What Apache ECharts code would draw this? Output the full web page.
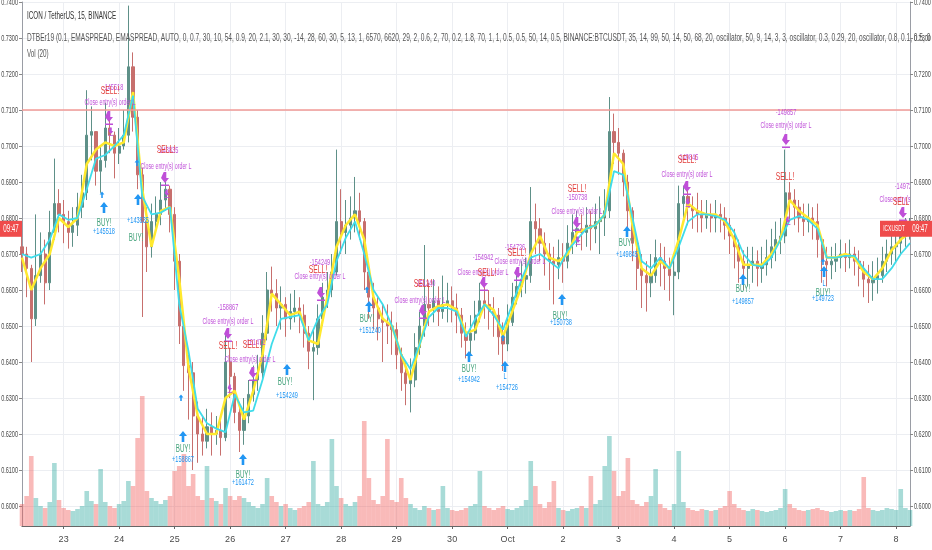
<!DOCTYPE html>
<html><head><meta charset="utf-8">
<script src="https://cdn.jsdelivr.net/npm/echarts/dist/echarts.min.js"></script>
<style>html,body{margin:0;padding:0;background:#fff}#c{width:932px;height:550px}</style>
</head><body><div id="c"></div>
<script>
// ---------- data ----------
const startTime = Date.UTC(2019, 8, 22, 6, 0); // first 2h candle
const stepHours = 2;
const monthNames = ['Jan','Feb','Mar','Apr','May','Jun','Jul','Aug','Sep','Oct','Nov','Dec'];
const firstOpen = 0.6720;
const closes = [
0.6700,0.6660,0.6520,0.6640,0.6700,0.6620,0.6760,0.6840,0.6810,0.6790,
0.6760,0.6780,0.6830,0.6870,0.7030,0.7040,0.6930,0.6960,0.7050,0.7030,
0.6980,0.7000,0.7030,0.7220,0.7080,0.6920,0.6790,0.6720,0.6790,0.6810,
0.6850,0.6880,0.6810,0.6680,0.6500,0.6390,0.6370,0.6250,0.6200,0.6180,
0.6220,0.6200,0.6210,0.6190,0.6400,0.6360,0.6260,0.6210,0.6250,0.6310,
0.6350,0.6370,0.6480,0.6600,0.6590,0.6550,0.6560,0.6520,0.6540,0.6550,
0.6530,0.6480,0.6430,0.6440,0.6520,0.6580,0.6600,0.6650,0.6790,0.6760,
0.6780,0.6800,0.6820,0.6790,0.6650,0.6580,0.6550,0.6520,0.6510,0.6500,
0.6490,0.6420,0.6370,0.6340,0.6350,0.6440,0.6500,0.6560,0.6550,0.6570,
0.6540,0.6560,0.6570,0.6550,0.6530,0.6480,0.6460,0.6480,0.6530,0.6570,
0.6560,0.6540,0.6530,0.6470,0.6450,0.6510,0.6580,0.6610,0.6630,0.6640,
0.6790,0.6770,0.6730,0.6700,0.6680,0.6670,0.6690,0.6680,0.6730,0.6760,
0.6770,0.6760,0.6780,0.6770,0.6790,0.6800,0.6820,0.7040,0.7010,0.6980,
0.6900,0.6820,0.6730,0.6660,0.6640,0.6620,0.6640,0.6690,0.6680,0.6660,
0.6640,0.6650,0.6840,0.6860,0.6830,0.6820,0.6810,0.6800,0.6810,0.6800,
0.6810,0.6800,0.6780,0.6750,0.6720,0.6680,0.6660,0.6670,0.6680,0.6660,
0.6670,0.6690,0.6720,0.6740,0.6750,0.6870,0.6850,0.6830,0.6800,0.6790,
0.6800,0.6790,0.6740,0.6680,0.6670,0.6680,0.6690,0.6700,0.6690,0.6700,
0.6680,0.6660,0.6630,0.6620,0.6630,0.6640,0.6680,0.6700,0.6720,0.6730,
0.6750,0.6760,0.6770];
const highs = [
0.6780,0.6720,0.6670,0.6810,0.6760,0.6740,0.6820,0.6965,0.6880,0.6850,
0.6820,0.6830,0.6870,0.6920,0.7155,0.7110,0.7040,0.7000,0.7120,0.7090,
0.7040,0.7050,0.7100,0.7390,0.7260,0.7100,0.6940,0.6830,0.6840,0.6860,
0.6900,0.6925,0.6890,0.6830,0.6700,0.6520,0.6420,0.6400,0.6290,0.6250,
0.6270,0.6260,0.6250,0.6240,0.6475,0.6440,0.6370,0.6280,0.6300,0.6350,
0.6390,0.6420,0.6530,0.6650,0.6665,0.6630,0.6610,0.6580,0.6590,0.6600,
0.6580,0.6560,0.6500,0.6490,0.6560,0.6620,0.6650,0.6700,0.6990,0.6880,
0.6850,0.6860,0.6914,0.6870,0.6800,0.6680,0.6620,0.6580,0.6560,0.6560,
0.6540,0.6510,0.6440,0.6400,0.6410,0.6480,0.6540,0.6725,0.6620,0.6630,
0.6610,0.6640,0.6620,0.6610,0.6590,0.6550,0.6510,0.6530,0.6570,0.6620,
0.6610,0.6600,0.6580,0.6550,0.6510,0.6560,0.6620,0.6660,0.6680,0.6690,
0.6886,0.6840,0.6800,0.6760,0.6730,0.6720,0.6740,0.6730,0.6780,0.6810,
0.6820,0.6810,0.6830,0.6820,0.6840,0.6860,0.6880,0.7136,0.7090,0.7050,
0.6990,0.6920,0.6830,0.6750,0.6700,0.6680,0.6700,0.6740,0.6730,0.6720,
0.6690,0.6700,0.6890,0.6890,0.6880,0.6860,0.6870,0.6850,0.6850,0.6840,
0.6850,0.6840,0.6830,0.6800,0.6770,0.6740,0.6710,0.6720,0.6720,0.6710,
0.6720,0.6740,0.6770,0.6790,0.6800,0.6990,0.6900,0.6880,0.6850,0.6840,
0.6840,0.6830,0.6840,0.6750,0.6720,0.6720,0.6730,0.6740,0.6730,0.6740,
0.6720,0.6710,0.6680,0.6670,0.6680,0.6690,0.6720,0.6740,0.6760,0.6770,
0.6790,0.6800,0.6800];
const lows = [
0.6650,0.6580,0.6400,0.6500,0.6620,0.6560,0.6600,0.6740,0.6760,0.6730,
0.6715,0.6720,0.6750,0.6800,0.6850,0.6960,0.6890,0.6870,0.6940,0.6980,
0.6910,0.6950,0.6990,0.7010,0.7040,0.6880,0.6525,0.6650,0.6690,0.6760,
0.6780,0.6820,0.6760,0.6600,0.6450,0.6320,0.6240,0.6100,0.6120,0.6140,
0.6160,0.6140,0.6170,0.6140,0.6180,0.6300,0.6230,0.6150,0.6170,0.6230,
0.6290,0.6320,0.6350,0.6460,0.6540,0.6500,0.6490,0.6470,0.6490,0.6510,
0.6480,0.6440,0.6380,0.6294,0.6420,0.6500,0.6550,0.6580,0.6640,0.6700,
0.6700,0.6740,0.6760,0.6740,0.6600,0.6520,0.6490,0.6460,0.6400,0.6450,
0.6420,0.6380,0.6320,0.6280,0.6260,0.6330,0.6420,0.6470,0.6500,0.6510,
0.6500,0.6520,0.6510,0.6510,0.6480,0.6440,0.6410,0.6420,0.6460,0.6510,
0.6520,0.6490,0.6470,0.6420,0.6375,0.6430,0.6500,0.6560,0.6580,0.6590,
0.6620,0.6700,0.6680,0.6640,0.6600,0.6560,0.6630,0.6620,0.6660,0.6700,
0.6720,0.6710,0.6720,0.6710,0.6730,0.6700,0.6750,0.6800,0.6950,0.6920,
0.6860,0.6760,0.6680,0.6600,0.6550,0.6540,0.6580,0.6620,0.6610,0.6600,
0.6570,0.6530,0.6630,0.6800,0.6780,0.6770,0.6760,0.6760,0.6770,0.6760,
0.6760,0.6760,0.6740,0.6700,0.6660,0.6620,0.6600,0.6610,0.6620,0.6610,
0.6620,0.6640,0.6660,0.6680,0.6700,0.6730,0.6790,0.6780,0.6760,0.6750,
0.6760,0.6740,0.6690,0.6620,0.6610,0.6630,0.6650,0.6660,0.6650,0.6660,
0.6640,0.6610,0.6580,0.6564,0.6570,0.6590,0.6620,0.6650,0.6670,0.6680,
0.6700,0.6720,0.6740];
const volumes = [
22,30,70,28,20,18,24,63,26,18,
16,15,17,20,35,25,22,57,24,20,
18,22,25,45,40,88,130,35,28,25,
22,26,30,55,60,72,40,52,30,26,
60,28,25,22,38,30,26,30,28,24,
20,18,22,48,30,24,20,22,18,16,
18,20,24,65,22,20,24,87,40,28,
22,20,24,30,105,48,26,22,30,87,
26,24,48,28,22,18,16,20,18,16,
17,40,18,16,15,16,18,20,22,55,
20,18,16,18,20,17,16,18,20,26,
65,40,22,18,24,45,18,16,15,17,
18,20,18,50,22,26,60,90,55,30,
35,68,26,22,20,24,30,57,22,18,
16,22,75,24,18,16,15,17,16,15,
16,18,20,35,22,18,16,15,17,16,
15,14,15,16,18,37,22,18,16,15,
16,17,18,16,15,14,15,16,15,16,
15,17,49,18,16,15,16,18,17,16,
37,18,16];
// indicator lines, one value every 2nd candle
const fastEma = [
0.6690,0.6600,0.6660,0.6700,0.6800,0.6775,0.6800,0.6950,0.6990,0.7010,
0.7000,0.7010,0.7150,0.6880,0.6720,0.6820,0.6830,0.6630,0.6385,0.6250,
0.6200,0.6200,0.6300,0.6320,0.6240,0.6320,0.6420,0.6590,0.6560,0.6530,
0.6540,0.6460,0.6450,0.6580,0.6720,0.6780,0.6810,0.6740,0.6580,0.6520,
0.6500,0.6420,0.6350,0.6450,0.6540,0.6555,0.6560,0.6545,0.6480,0.6490,
0.6560,0.6545,0.6470,0.6540,0.6610,0.6700,0.6750,0.6690,0.6680,0.6700,
0.6760,0.6770,0.6780,0.6810,0.6980,0.6950,0.6780,0.6660,0.6640,0.6680,
0.6660,0.6740,0.6840,0.6820,0.6810,0.6810,0.6790,0.6740,0.6670,0.6670,
0.6670,0.6700,0.6740,0.6850,0.6820,0.6800,0.6780,0.6690,0.6690,0.6700,
0.6690,0.6650,0.6630,0.6660,0.6710,0.6740,0.6760];
const slowEma = [
0.6700,0.6690,0.6700,0.6740,0.6810,0.6795,0.6800,0.6880,0.6965,0.6975,
0.7000,0.7030,0.7140,0.6860,0.6810,0.6815,0.6830,0.6560,0.6430,0.6270,
0.6230,0.6215,0.6205,0.6310,0.6260,0.6265,0.6350,0.6450,0.6520,0.6525,
0.6530,0.6460,0.6520,0.6560,0.6680,0.6745,0.6790,0.6700,0.6600,0.6560,
0.6500,0.6420,0.6380,0.6450,0.6525,0.6550,0.6550,0.6540,0.6470,0.6520,
0.6560,0.6530,0.6490,0.6560,0.6630,0.6690,0.6700,0.6680,0.6660,0.6710,
0.6740,0.6770,0.6780,0.6810,0.6930,0.6920,0.6800,0.6680,0.6660,0.6690,
0.6660,0.6720,0.6790,0.6810,0.6810,0.6805,0.6795,0.6760,0.6700,0.6670,
0.6665,0.6690,0.6740,0.6795,0.6805,0.6795,0.6770,0.6690,0.6690,0.6695,
0.6695,0.6660,0.6630,0.6630,0.6660,0.6700,0.6730];
const levelLine = 0.7100;
const yTicks = {min: 0.60, max: 0.74, step: 0.01};
const priceTickLabels = ['0.6000','0.6100','0.6200','0.6300','0.6400','0.6500','0.6600','0.6700','0.6800','0.6900','0.7000','0.7100','0.7200','0.7300','0.7400'];
// strategy annotations: [candle index, price, text]
const sellLabels = [[19.03,0.71528],[31.14,0.69889],[44.54,0.64444],[49.73,0.64472],[64.00,0.66556],[86.70,0.66167],[100.54,0.66472],[107.03,0.67028],[120.00,0.68806],[143.78,0.69611],[164.97,0.69139],[190.27,0.68444]];
const sellAmounts = [[19.68,0.71611,'-145518'],[31.57,0.69861,'-143835'],[44.54,0.65500,'-158867'],[50.38,0.64528,'-161472'],[64.43,0.66750,'-154249'],[87.14,0.66194,'-151240'],[99.68,0.66889,'-154942'],[106.59,0.67194,'-154726'],[120.00,0.68556,'-150738'],[144.00,0.69667,'-149845'],[165.19,0.70917,'-149857'],[190.92,0.68861,'-149723']];
const closeLabels = [[19.03,0.71194],[31.14,0.69417],[44.54,0.65111],[49.30,0.64056],[64.43,0.66361],[86.05,0.65694],[99.68,0.66472],[107.68,0.66778],[120.00,0.68167],[143.78,0.69194],[165.19,0.70556],[190.92,0.68500]];
const closeArrows = [[18.81,0.70806],[30.92,0.69111],[44.54,0.64778],[49.95,0.63694],[64.65,0.65917],[86.70,0.65417],[99.89,0.66194],[107.24,0.66472],[120.00,0.67861],[143.78,0.68861],[165.19,0.70167],[190.49,0.68139]];
const closeTicks = [[19.24,0.70417],[31.35,0.68694],[44.97,0.63278],[120.22,0.67389],[144.00,0.68444],[165.62,0.67944]];
const buyArrows = [[17.73,0.68278],[25.08,0.68500],[34.81,0.61917],[47.78,0.61278],[57.30,0.63778],[75.03,0.65528],[96.65,0.64139],[104.43,0.63861],[116.76,0.65722],[130.81,0.67611],[155.89,0.66278],[173.41,0.66500]];
const buyTicks = [[17.30,0.68639],[24.86,0.69528],[34.38,0.63000],[74.59,0.66000],[104.00,0.64667],[173.19,0.66778]];
const buyLabels = [[17.73,0.67861],[24.65,0.67444],[34.81,0.61583],[47.78,0.60861],[56.86,0.63444],[74.59,0.65194],[96.65,0.63806],[116.32,0.65278],[130.59,0.67306],[155.89,0.66028],[173.19,0.65917]];
const entryLetters = [[104.43,0.63583],[173.41,0.66194]];
const buyAmounts = [[17.73,0.67611,'+145518'],[25.08,0.67917,'+143835'],[34.81,0.61278,'+158867'],[47.78,0.60639,'+161472'],[57.30,0.63056,'+154249'],[75.24,0.64861,'+151240'],[96.65,0.63500,'+154942'],[104.86,0.63278,'+154726'],[116.54,0.65083,'+150738'],[130.81,0.66972,'+149845'],[155.89,0.65667,'+149857'],[173.19,0.65750,'+149723']];
const headerTitle = 'ICON / TetherUS, 15, BINANCE';
const headerStudy = 'DTBEr19 (0.1, EMASPREAD, EMASPREAD, AUTO, 0, 0.7, 30, 10, 54, 0.9, 20, 2.1, 30, 30, -14, 28, 60, 30, 5, 13, 1, 6570, 6620, 29, 2, 0.6, 2, 70, 0.2, 1.8, 70, 1, 1, 0.5, 0.5, 50, 14, 0.5, BINANCE:BTCUSDT, 35, 14, 99, 50, 14, 50, 68, 20, oscillator, 50, 9, 14, 3, 3, oscillator, 0.3, 0.29, 20, oscillator, 0.8, 0.1, 0.5, 0';
const headerVol = 'Vol (20)';
const symbolTag = 'ICXUSDT';
const countdown = '09:47';

// ---------- build ----------
const categories = closes.map((_, i) => new Date(startTime + i * stepHours * 3600000).toISOString().slice(0, 16).replace('T', ' '));
const opens = closes.map((c, i) => i === 0 ? firstOpen : closes[i - 1]);
const candleData = closes.map((c, i) => [opens[i], c, lows[i], highs[i]]);
const UP = '#5e9088', DOWN = '#c76f6d';
const volData = volumes.map((v, i) => ({value: v, itemStyle: {color: closes[i] >= opens[i] ? 'rgba(38,166,154,0.40)' : 'rgba(239,83,80,0.40)'}}));
const isDayStart = (idx, val) => String(val).slice(11, 13) === '00';
const dayLabel = v => { const d = +v.slice(8, 10); return d === 1 ? monthNames[+v.slice(5, 7) - 1] : String(d); };

const SX = 0.62;
const FONT = '"Liberation Sans", Arial, sans-serif';
const PURPLE = '#bf4fd8', BLUE = '#2196f3', RED = '#e2403d', GREEN = '#45a37c';
const annoItems = [];
const addGroup = (arr, kind) => arr.forEach(d => annoItems.push({kind, i: d[0], p: d[1], text: d[2]}));
addGroup(closeTicks, 'downSmall'); addGroup(buyTicks, 'upSmall');
addGroup(closeArrows, 'down'); addGroup(buyArrows, 'up');
addGroup(closeLabels, 'close'); addGroup(sellAmounts, 'sellAmt'); addGroup(sellLabels, 'sell');
addGroup(buyLabels, 'buy'); addGroup(entryLetters, 'letter'); addGroup(buyAmounts, 'buyAmt');
const textKinds = {
  sell: {text: 'SELL!', color: RED, size: 11},
  sellAmt: {color: PURPLE, size: 9},
  close: {text: 'Close entry(s) order L', color: PURPLE, size: 8.5},
  buy: {text: 'BUY!', color: GREEN, size: 10},
  letter: {text: 'L', color: BLUE, size: 9},
  buyAmt: {color: BLUE, size: 9}
};
function arrowUp(cx, cy, s, fill) {
  return {type: 'polygon', shape: {points: [[cx, cy - 6 * s], [cx + 4 * s, cy - 1 * s], [cx + 1.3 * s, cy - 1 * s], [cx + 1.3 * s, cy + 5 * s], [cx - 1.3 * s, cy + 5 * s], [cx - 1.3 * s, cy - 1 * s], [cx - 4 * s, cy - 1 * s]]}, style: {fill}};
}
function arrowDown(cx, cy, s, fill) {
  return {type: 'group', children: [
    {type: 'polygon', shape: {points: [[cx - 1.3 * s, cy - 6 * s], [cx + 1.3 * s, cy - 6 * s], [cx + 1.3 * s, cy], [cx + 4 * s, cy], [cx, cy + 5 * s], [cx - 4 * s, cy]]}, style: {fill}},
    {type: 'rect', shape: {x: cx - 4 * s, y: cy + 6.5 * s, width: 8 * s, height: 1.5 * s}, style: {fill}}
  ]};
}
function renderAnno(params, api) {
  const a = annoItems[params.dataIndex];
  const pt = api.coord([a.i, a.p]);
  if (a.kind === 'up') return arrowUp(pt[0], pt[1], 1, BLUE);
  if (a.kind === 'upSmall') return arrowUp(pt[0], pt[1], 0.6, BLUE);
  if (a.kind === 'down') return arrowDown(pt[0], pt[1], 1, PURPLE);
  if (a.kind === 'downSmall') return arrowDown(pt[0], pt[1], 0.6, PURPLE);
  const st = textKinds[a.kind];
  return {type: 'text', x: pt[0], y: pt[1], scaleX: SX,
    style: {text: a.text || st.text, fill: st.color, font: st.size + 'px ' + FONT, align: 'center', verticalAlign: 'middle'}};
}
const lastClose = closes[closes.length - 1];
function renderTag(params, api) {
  const r = api.coord([closes.length - 1, lastClose]);
  const l = api.coord([0, lastClose]);
  const y = r[1];
  return {type: 'group', children: [
    {type: 'rect', shape: {x: r[0] - 30, y: y - 8, width: 52, height: 16}, style: {fill: '#ef4b4b'}},
    {type: 'text', x: r[0] - 16, y: y, scaleX: 0.55, style: {text: symbolTag, fill: '#fff', font: '9px ' + FONT, align: 'center', verticalAlign: 'middle'}},
    {type: 'text', x: r[0] + 10, y: y, scaleX: SX, style: {text: countdown, fill: '#fff', font: '10px ' + FONT, align: 'center', verticalAlign: 'middle'}},
    {type: 'rect', shape: {x: l[0] - 22, y: y - 8, width: 22, height: 16}, style: {fill: '#ef4b4b'}},
    {type: 'text', x: l[0] - 11, y: y, scaleX: SX, style: {text: countdown, fill: '#fff', font: '10px ' + FONT, align: 'center', verticalAlign: 'middle'}}
  ]};
}
// price tick labels on both sides (condensed, like the reference)
function renderPriceLabels(params, api) {
  const t = priceTickLabels[params.dataIndex];
  const v = parseFloat(t);
  const l = api.coord([0, v]);
  const r = api.coord([closes.length - 1, v]);
  const st = (align) => ({text: t, fill: '#4a4a4a', font: '9.5px ' + FONT, align, verticalAlign: 'middle'});
  return {type: 'group', children: [
    {type: 'text', x: l[0] - 4, y: l[1], scaleX: 0.58, style: st('right')},
    {type: 'text', x: r[0] + 4, y: r[1], scaleX: 0.58, style: st('left')}
  ]};
}

const GRID_LINE = '#eceef2';
const priceAxis = (pos) => ({
  type: 'value', gridIndex: 0, position: pos, min: yTicks.min, max: yTicks.max, interval: yTicks.step,
  axisLine: {show: false}, axisTick: {show: true, length: 3, lineStyle: {color: '#888'}},
  axisLabel: {show: false},
  splitLine: {show: pos === 'left', lineStyle: {color: GRID_LINE, width: 1}}
});

const chart = echarts.init(document.getElementById('c'), null, {renderer: 'canvas'});
chart.setOption({
  animation: false,
  backgroundColor: '#ffffff',
  grid: [
    {left: 22, right: 22, top: 2, bottom: 44, outerBoundsMode: 'none'},
    {left: 22, right: 22, top: 2, bottom: 24, outerBoundsMode: 'none'}
  ],
  xAxis: [
    {type: 'category', gridIndex: 0, data: categories, boundaryGap: false, show: false},
    {type: 'category', gridIndex: 1, data: categories, boundaryGap: false,
      axisLine: {lineStyle: {color: '#666', width: 1.2}},
      axisTick: {interval: isDayStart, length: 3, lineStyle: {color: '#666'}},
      axisLabel: {interval: isDayStart, formatter: dayLabel, color: '#4a4a4a', fontSize: 9, fontFamily: 'Liberation Sans, Arial, sans-serif', margin: 9},
      splitLine: {show: true, interval: isDayStart, lineStyle: {color: GRID_LINE, width: 1}}},
    {type: 'value', gridIndex: 0, min: 0, max: closes.length - 1, show: false}
  ],
  yAxis: [
    priceAxis('left'),
    priceAxis('right'),
    {type: 'value', gridIndex: 1, min: 0, max: 524, position: 'left',
      axisLine: {show: true, lineStyle: {color: '#9a9da5'}}, axisTick: {show: false}, axisLabel: {show: false}, splitLine: {show: false}},
    {type: 'value', gridIndex: 1, min: 0, max: 1, position: 'right',
      axisLine: {show: true, lineStyle: {color: '#9a9da5'}}, axisTick: {show: false}, axisLabel: {show: false}, splitLine: {show: false}}
  ],
  graphic: [
    {type: 'text', x: 27, y: 16, scaleX: 0.63, z: 100, style: {text: headerTitle, fill: '#333', font: '10px ' + FONT, verticalAlign: 'middle'}},
    {type: 'text', x: 27, y: 38, scaleX: 0.658, z: 100, style: {text: headerStudy, fill: '#555', font: '10px ' + FONT, verticalAlign: 'middle'}},
    {type: 'text', x: 27, y: 54, scaleX: 0.63, z: 100, style: {text: headerVol, fill: '#555', font: '10px ' + FONT, verticalAlign: 'middle'}}
  ],
  series: [
    {type: 'bar', xAxisIndex: 1, yAxisIndex: 2, data: volData, barCategoryGap: '0%', barWidth: '100%', z: 1, silent: true},
    {type: 'candlestick', xAxisIndex: 0, yAxisIndex: 0, data: candleData, barWidth: 2.6, z: 2,
      itemStyle: {color: UP, color0: DOWN, borderColor: UP, borderColor0: DOWN, borderWidth: 1},
      markLine: {silent: true, symbol: 'none', label: {show: false}, lineStyle: {color: '#f29a96', width: 1.5, type: 'solid'}, data: [{yAxis: levelLine}]}},
    {type: 'line', xAxisIndex: 2, yAxisIndex: 0, data: fastEma.map((v, k) => [k * 2, v]), symbol: 'none', z: 3,
      lineStyle: {color: '#ffe92e', width: 2.5}},
    {type: 'line', xAxisIndex: 2, yAxisIndex: 0, data: slowEma.map((v, k) => [k * 2, v]), symbol: 'none', z: 4,
      lineStyle: {color: '#3fdcea', width: 1.8}},
    {type: 'custom', xAxisIndex: 2, yAxisIndex: 0, clip: true, z: 5, renderItem: renderAnno, data: annoItems.map(a => [a.i, a.p]), silent: true},
    {type: 'custom', xAxisIndex: 2, yAxisIndex: 0, clip: false, z: 6, renderItem: renderTag, data: [[closes.length - 1, lastClose]], silent: true},
    {type: 'custom', xAxisIndex: 2, yAxisIndex: 0, clip: false, z: 6, renderItem: renderPriceLabels, data: priceTickLabels.map(t => [0, parseFloat(t)]), silent: true}
  ]
});
</script>
</body></html>
